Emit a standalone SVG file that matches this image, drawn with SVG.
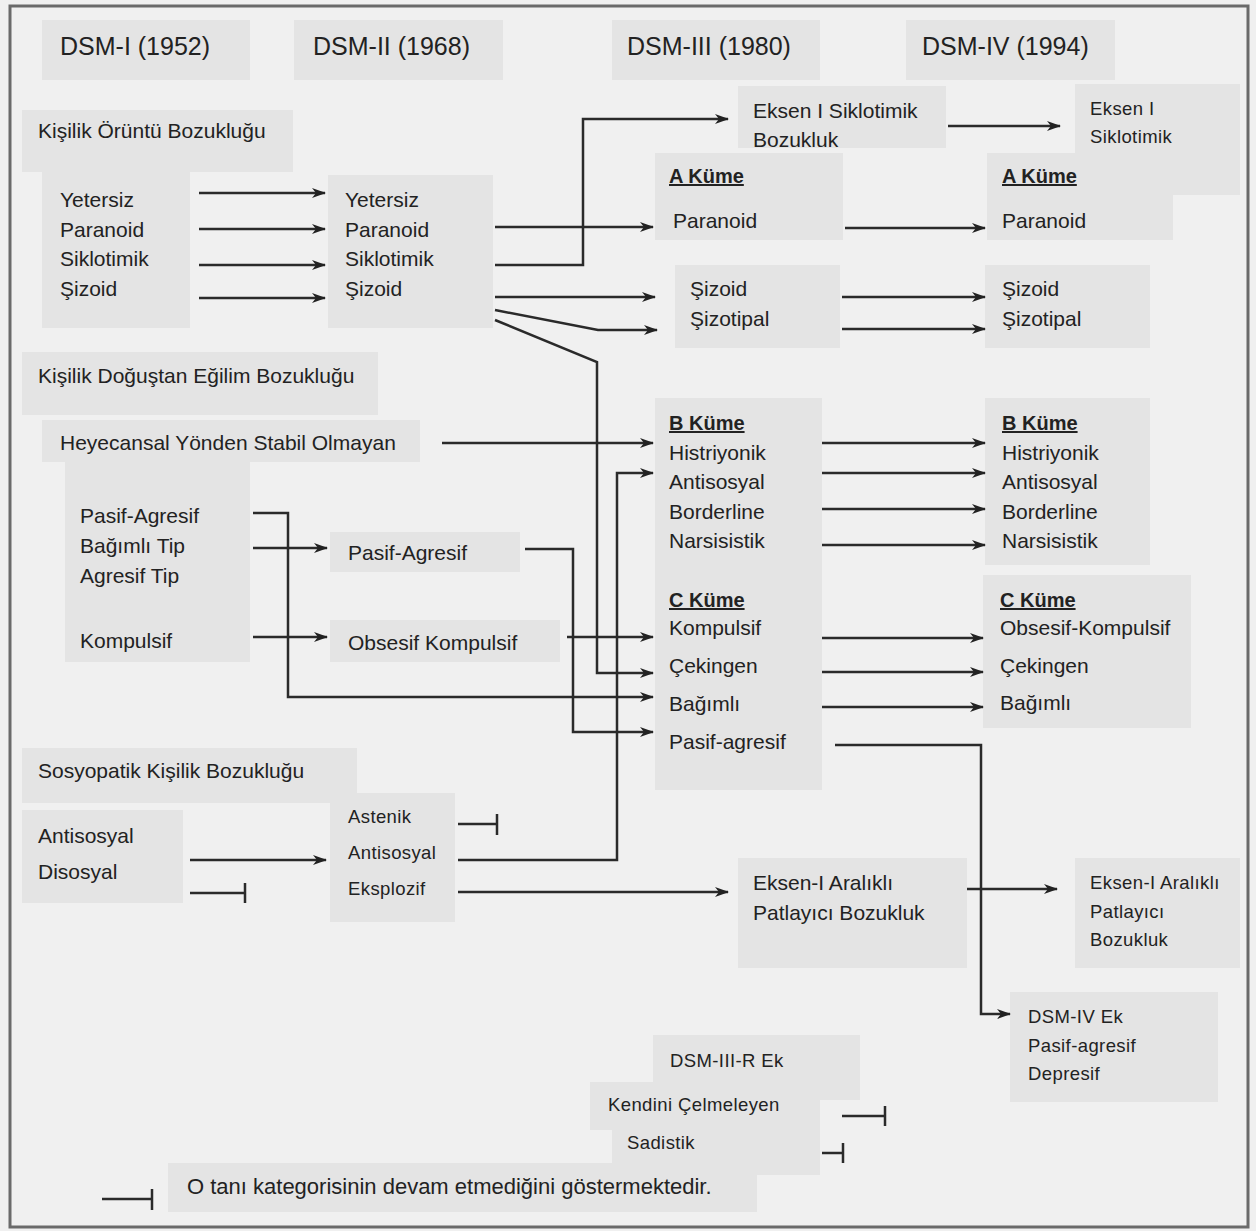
<svg xmlns="http://www.w3.org/2000/svg" width="1256" height="1231" viewBox="0 0 1256 1231">
<defs>
<style>
.bg{fill:#f0f0f0}
.frame{fill:none;stroke:#6a6a6a;stroke-width:3}
.box{fill:#e4e4e4}
text{font-family:"Liberation Sans",Arial,sans-serif;fill:#222}
.h{font-size:25px}
.t{font-size:21px}
.s{font-size:18.5px;letter-spacing:0.4px}
.b{font-size:20px;font-weight:bold;text-decoration:underline}
.c{fill:none;stroke:#2a2a2a;stroke-width:2.5}
.ca{fill:none;stroke:#2a2a2a;stroke-width:2.5;marker-end:url(#ah)}
</style>
<marker id="ah" viewBox="0 0 14 10" refX="13" refY="5" markerWidth="14" markerHeight="10" markerUnits="userSpaceOnUse" orient="auto">
<path d="M0,0 L14,5 L0,10 L4,5 z" fill="#222"/>
</marker>
</defs>
<rect class="bg" x="0" y="0" width="1256" height="1231"/>
<rect class="frame" x="10" y="6" width="1238" height="1221"/>

<g id="h1"><rect class="box" x="42" y="20" width="208" height="60"/><text class="h" x="60" y="55">DSM-I (1952)</text></g>
<g id="h2"><rect class="box" x="294" y="20" width="209" height="60"/><text class="h" x="313" y="55">DSM-II (1968)</text></g>
<g id="h3"><rect class="box" x="612" y="20" width="208" height="60"/><text class="h" x="627" y="55">DSM-III (1980)</text></g>
<g id="h4"><rect class="box" x="906" y="20" width="209" height="60"/><text class="h" x="922" y="55">DSM-IV (1994)</text></g>

<g id="kob"><rect class="box" x="22" y="110" width="271" height="62"/><text class="t" x="38" y="138">Kişilik Örüntü Bozukluğu</text></g>
<g id="d1list"><rect class="box" x="42" y="172" width="148" height="156"/>
<text class="t" x="60" y="207">Yetersiz</text><text class="t" x="60" y="237">Paranoid</text><text class="t" x="60" y="266">Siklotimik</text><text class="t" x="60" y="296">Şizoid</text></g>
<g id="d2list"><rect class="box" x="328" y="175" width="165" height="153"/>
<text class="t" x="345" y="207">Yetersiz</text><text class="t" x="345" y="237">Paranoid</text><text class="t" x="345" y="266">Siklotimik</text><text class="t" x="345" y="296">Şizoid</text></g>

<g id="e1sb"><rect class="box" x="738" y="86" width="208" height="62"/><text class="t" x="753" y="118">Eksen I Siklotimik</text><text class="t" x="753" y="147">Bozukluk</text></g>
<g id="e1s4"><rect class="box" x="1075" y="84" width="165" height="111"/><text class="s" x="1090" y="115">Eksen I</text><text class="s" x="1090" y="143">Siklotimik</text></g>
<g id="a3"><rect class="box" x="655" y="153" width="188" height="87"/><text class="b" x="669" y="183">A Küme</text><text class="t" x="673" y="228">Paranoid</text></g>
<g id="a4"><rect class="box" x="987" y="153" width="186" height="87"/><text class="b" x="1002" y="183">A Küme</text><text class="t" x="1002" y="228">Paranoid</text></g>
<g id="sz3"><rect class="box" x="675" y="265" width="165" height="83"/><text class="t" x="690" y="296">Şizoid</text><text class="t" x="690" y="326">Şizotipal</text></g>
<g id="sz4"><rect class="box" x="985" y="265" width="165" height="83"/><text class="t" x="1002" y="296">Şizoid</text><text class="t" x="1002" y="326">Şizotipal</text></g>

<g id="kdeb"><rect class="box" x="22" y="352" width="356" height="63"/><text class="t" x="38" y="383">Kişilik Doğuştan Eğilim Bozukluğu</text></g>
<g id="hyso"><rect class="box" x="42" y="420" width="378" height="42"/><text class="t" x="60" y="450">Heyecansal Yönden Stabil Olmayan</text></g>
<g id="pa1"><rect class="box" x="65" y="462" width="185" height="200"/>
<text class="t" x="80" y="523">Pasif-Agresif</text><text class="t" x="80" y="553">Bağımlı Tip</text><text class="t" x="80" y="583">Agresif Tip</text><text class="t" x="80" y="648">Kompulsif</text></g>
<g id="pa2"><rect class="box" x="330" y="532" width="190" height="40"/><text class="t" x="348" y="560">Pasif-Agresif</text></g>
<g id="ok2"><rect class="box" x="330" y="620" width="230" height="42"/><text class="t" x="348" y="650">Obsesif Kompulsif</text></g>

<g id="bc3"><rect class="box" x="655" y="398" width="167" height="392"/>
<text class="b" x="669" y="430">B Küme</text><text class="t" x="669" y="460">Histriyonik</text><text class="t" x="669" y="489">Antisosyal</text><text class="t" x="669" y="519">Borderline</text><text class="t" x="669" y="548">Narsisistik</text>
<text class="b" x="669" y="607">C Küme</text><text class="t" x="669" y="635">Kompulsif</text><text class="t" x="669" y="673">Çekingen</text><text class="t" x="669" y="711">Bağımlı</text><text class="t" x="669" y="749">Pasif-agresif</text></g>
<g id="b4"><rect class="box" x="985" y="398" width="165" height="167"/>
<text class="b" x="1002" y="430">B Küme</text><text class="t" x="1002" y="460">Histriyonik</text><text class="t" x="1002" y="489">Antisosyal</text><text class="t" x="1002" y="519">Borderline</text><text class="t" x="1002" y="548">Narsisistik</text></g>
<g id="c4"><rect class="box" x="983" y="575" width="208" height="153"/>
<text class="b" x="1000" y="607">C Küme</text><text class="t" x="1000" y="635">Obsesif-Kompulsif</text><text class="t" x="1000" y="673">Çekingen</text><text class="t" x="1000" y="710">Bağımlı</text></g>

<g id="skb"><rect class="box" x="22" y="748" width="335" height="55"/><text class="t" x="38" y="778">Sosyopatik Kişilik Bozukluğu</text></g>
<g id="ad1"><rect class="box" x="22" y="810" width="161" height="93"/><text class="t" x="38" y="843">Antisosyal</text><text class="t" x="38" y="879">Disosyal</text></g>
<g id="aae2"><rect class="box" x="330" y="793" width="125" height="129"/><text class="s" x="348" y="823">Astenik</text><text class="s" x="348" y="859">Antisosyal</text><text class="s" x="348" y="895">Eksplozif</text></g>
<g id="eap3"><rect class="box" x="738" y="858" width="229" height="110"/><text class="t" x="753" y="890">Eksen-I Aralıklı</text><text class="t" x="753" y="920">Patlayıcı Bozukluk</text></g>
<g id="eap4"><rect class="box" x="1075" y="858" width="165" height="110"/><text class="s" x="1090" y="889">Eksen-I Aralıklı</text><text class="s" x="1090" y="918">Patlayıcı</text><text class="s" x="1090" y="946">Bozukluk</text></g>
<g id="ek4"><rect class="box" x="1010" y="992" width="208" height="110"/><text class="s" x="1028" y="1023">DSM-IV Ek</text><text class="s" x="1028" y="1052">Pasif-agresif</text><text class="s" x="1028" y="1080">Depresif</text></g>
<g id="ek3r"><rect class="box" x="653" y="1035" width="207" height="65"/><text class="s" x="670" y="1067">DSM-III-R Ek</text></g>
<g id="kc"><rect class="box" x="590" y="1082" width="230" height="48"/><text class="s" x="608" y="1111">Kendini Çelmeleyen</text></g>
<g id="sd"><rect class="box" x="612" y="1128" width="208" height="47"/><text class="s" x="627" y="1149">Sadistik</text></g>
<g id="legend"><rect class="box" x="168" y="1163" width="589" height="49"/><text class="t" x="187" y="1194" style="font-size:22px">O tanı kategorisinin devam etmediğini göstermektedir.</text></g>

<g id="connectors">
<path class="ca" d="M199,193 H325"/>
<path class="ca" d="M199,229 H325"/>
<path class="ca" d="M199,265 H325"/>
<path class="ca" d="M199,298 H325"/>
<path class="ca" d="M495,227 H653"/>
<path class="ca" d="M495,265 H583 V119 H728"/>
<path class="ca" d="M495,297 H655"/>
<path class="ca" d="M495,310 L598,330 H657"/>
<path class="ca" d="M495,320 L597,362 V673 H653"/>
<path class="ca" d="M948,126 H1060"/>
<path class="ca" d="M845,228 H985"/>
<path class="ca" d="M842,297 H985"/>
<path class="ca" d="M842,329 H985"/>
<path class="ca" d="M442,443 H653"/>
<path class="ca" d="M253,513 H288 V697 H653"/>
<path class="ca" d="M253,548 H327"/>
<path class="ca" d="M253,637 H327"/>
<path class="ca" d="M525,549 H573 V732 H653"/>
<path class="ca" d="M567,637 H653"/>
<path class="ca" d="M458,860 H617 V473 H653"/>
<path class="ca" d="M822,443 H985"/>
<path class="ca" d="M822,473 H985"/>
<path class="ca" d="M822,509 H985"/>
<path class="ca" d="M822,545 H985"/>
<path class="ca" d="M822,638 H983"/>
<path class="ca" d="M822,672 H983"/>
<path class="ca" d="M822,707 H983"/>
<path class="ca" d="M835,745 H981 V1014 H1010"/>
<path class="ca" d="M190,860 H326"/>
<path class="ca" d="M458,892 H728"/>
<path class="ca" d="M967,889 H1057"/>
<path class="c" d="M190,893 H245 M245,883 V903"/>
<path class="c" d="M458,824 H497 M497,814 V835"/>
<path class="c" d="M842,1116 H885 M885,1106 V1126"/>
<path class="c" d="M822,1153 H843 M843,1143 V1163"/>
<path class="c" d="M102,1199 H152 M152,1189 V1210"/>
</g>
</svg>
